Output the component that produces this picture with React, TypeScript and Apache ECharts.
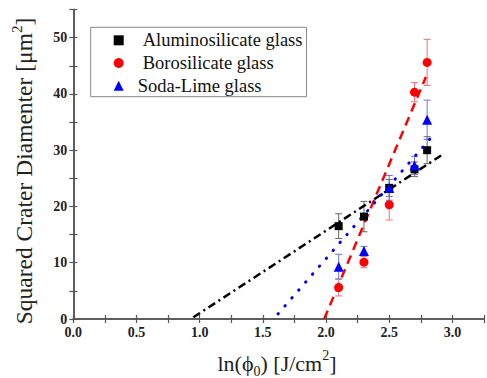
import React, { useEffect, useRef } from "react";
import * as echarts from "echarts";

const lnPhi = [2.1, 2.3, 2.5, 2.7, 2.8];
const alumY = [16.5, 18.2, 23.3, 26.6, 30.0];
const alumErr = [2.2, 2.7, 1.5, 1.3, 2.4];
const boroY = [5.6, 10.1, 20.3, 40.3, 45.6];
const boroErr = [1.5, 1.0, 2.7, 1.7, 4.1];
const sodaY = [9.3, 12.1, 23.3, 27.3, 35.4];
const sodaErr = [2.2, 0.8, 2.2, 1.6, 3.5];

const alumFit = [[0.95, 0.3], [2.92, 29.2]];
const boroFit = [[1.985, 0], [2.79, 43.0]];
const sodaFit = [[1.62, 0.9], [2.83, 32.2]];

const seriesNames = ["Aluminosilicate glass", "Borosilicate glass", "Soda-Lime glass"];

const SERIF = "Liberation Serif, Times New Roman, DejaVu Serif, serif";

function pts(ys: number[]) {
  return lnPhi.map((x, i) => [x, ys[i]]);
}
function errs(ys: number[], es: number[]) {
  return lnPhi.map((x, i) => [x, ys[i] - es[i], ys[i] + es[i]]);
}

function errorSeries(data: number[][], color: string) {
  return {
    type: "custom",
    xAxisIndex: 0,
    yAxisIndex: 0,
    data,
    z: 1,
    renderItem: (params: any, api: any) => {
      const x = api.value(0);
      const top = api.coord([x, api.value(2)]);
      const bot = api.coord([x, api.value(1)]);
      const w = 3.5;
      const st = { stroke: color, lineWidth: 1 };
      return {
        type: "group",
        children: [
          { type: "line", shape: { x1: top[0], y1: top[1], x2: bot[0], y2: bot[1] }, style: st },
          { type: "line", shape: { x1: top[0] - w, y1: top[1], x2: top[0] + w, y2: top[1] }, style: st },
          { type: "line", shape: { x1: bot[0] - w, y1: bot[1], x2: bot[0] + w, y2: bot[1] }, style: st },
        ],
      };
    },
  };
}

export default function App() {
  const ref = useRef<HTMLDivElement>(null);
  useEffect(() => {
    if (!ref.current) return;
    const chart = echarts.init(ref.current, null, { renderer: "svg" });
    const axisLine = { show: true, lineStyle: { color: "#555", width: 1.5 } };
    const tickStyle = { show: true, inside: true, length: 4, lineStyle: { color: "#555", width: 1.2 } };
    const labelStyle = {
      fontFamily: SERIF,
      fontWeight: "bold",
      fontSize: 14,
      color: "#222",
    };
    chart.setOption({
      animation: false,
      backgroundColor: "#fff",
      grid: { left: 73.3, top: 9.5, right: -2.6, bottom: 59 },
      xAxis: [
        {
          type: "value",
          position: "bottom",
          min: 0,
          max: 3.25,
          interval: 0.25,
          axisLine,
          axisTick: tickStyle,
          splitLine: { show: false },
          axisLabel: {
            ...labelStyle,
            margin: 6,
            formatter: (v: number) => (Math.abs(v * 2 - Math.round(v * 2)) < 1e-6 && v <= 3.0 ? v.toFixed(1) : ""),
          },
        },
        {
          type: "value",
          position: "top",
          min: 0,
          max: 3.25,
          interval: 0.25,
          axisLine,
          axisTick: tickStyle,
          splitLine: { show: false },
          axisLabel: { show: false },
        },
      ],
      yAxis: [
        {
          type: "value",
          position: "left",
          min: 0,
          max: 55,
          interval: 5,
          axisLine,
          axisTick: tickStyle,
          splitLine: { show: false },
          axisLabel: {
            ...labelStyle,
            margin: 6,
            formatter: (v: number) => (v % 10 === 0 ? String(v) : ""),
          },
        },
        {
          type: "value",
          position: "right",
          min: 0,
          max: 55,
          interval: 5,
          axisLine,
          axisTick: tickStyle,
          splitLine: { show: false },
          axisLabel: { show: false },
        },
      ],
      legend: {
        orient: "vertical",
        left: 90.7,
        top: 27.3,
        padding: [3, 4, 1, 23],
        itemWidth: 10,
        itemHeight: 10,
        itemGap: 2.7,
        borderColor: "#888",
        borderWidth: 1,
        backgroundColor: "#fff",
        textStyle: { fontFamily: SERIF, fontSize: 18.5, color: "#111", lineHeight: 20 },
        data: [
          { name: seriesNames[0], textStyle: { padding: [0, 0, 0, 14] } },
          { name: seriesNames[1], textStyle: { padding: [0, 0, 0, 14] } },
          { name: seriesNames[2], textStyle: { padding: [0, 0, 0, 9] } },
        ],
      },
      graphic: [
        {
          type: "text",
          x: 24,
          y: 171,
          rotation: Math.PI / 2,
          style: {
            text: "{a|Squared Crater Diamenter [μm}{s|2}{a|]}",
            textAlign: "center",
            textVerticalAlign: "middle",
            fill: "#222",
            rich: {
              a: { fontFamily: SERIF, fontSize: 23.5, lineHeight: 30, fill: "#222" },
              s: { fontFamily: SERIF, fontSize: 15, lineHeight: 15, verticalAlign: "top", fill: "#222" },
            },
          },
        },
        {
          type: "text",
          x: 277,
          y: 363,
          style: {
            text: "{a|ln(ϕ}{b|0}{a|) [J/cm}{s|2}{a|]}",
            textAlign: "center",
            textVerticalAlign: "middle",
            fill: "#222",
            rich: {
              a: { fontFamily: SERIF, fontSize: 22, lineHeight: 30, fill: "#222" },
              b: { fontFamily: SERIF, fontSize: 14, lineHeight: 14, verticalAlign: "bottom", fill: "#222" },
              s: { fontFamily: SERIF, fontSize: 14, lineHeight: 14, verticalAlign: "top", fill: "#222" },
            },
          },
        },
      ],
      series: [
        {
          type: "line",
          data: alumFit,
          showSymbol: false,
          symbol: "none",
          z: 2,
          lineStyle: { color: "#000", width: 2.5, type: [8, 4, 2, 4] },
          silent: true,
        },
        {
          type: "line",
          data: boroFit,
          showSymbol: false,
          symbol: "none",
          z: 2,
          lineStyle: { color: "#ff0000", width: 2.5, type: [9, 6] },
          silent: true,
        },
        {
          type: "line",
          data: sodaFit,
          showSymbol: false,
          symbol: "none",
          z: 2,
          lineStyle: { color: "#0000ff", width: 3, type: [0.5, 10], cap: "round" },
          silent: true,
        },
        errorSeries(errs(alumY, alumErr), "#666"),
        errorSeries(errs(boroY, boroErr), "#f07070"),
        errorSeries(errs(sodaY, sodaErr), "#7070f0"),
        {
          name: seriesNames[0],
          type: "scatter",
          data: pts(alumY),
          symbol: "rect",
          symbolSize: 8,
          itemStyle: { color: "#000", opacity: 1 },
          z: 3,
        },
        {
          name: seriesNames[1],
          type: "scatter",
          data: pts(boroY),
          symbol: "circle",
          symbolSize: 9,
          itemStyle: { color: "#ff0000", opacity: 1 },
          z: 3,
        },
        {
          name: seriesNames[2],
          type: "scatter",
          data: pts(sodaY),
          symbol: "triangle",
          symbolSize: 10,
          itemStyle: { color: "#0000ff", opacity: 1 },
          z: 3,
        },
      ],
    });
    return () => chart.dispose();
  }, []);
  return (
    <div
      ref={ref}
      style={{ position: "absolute", left: 0, top: 0, width: 487, height: 378, background: "#fff" }}
    />
  );
}
